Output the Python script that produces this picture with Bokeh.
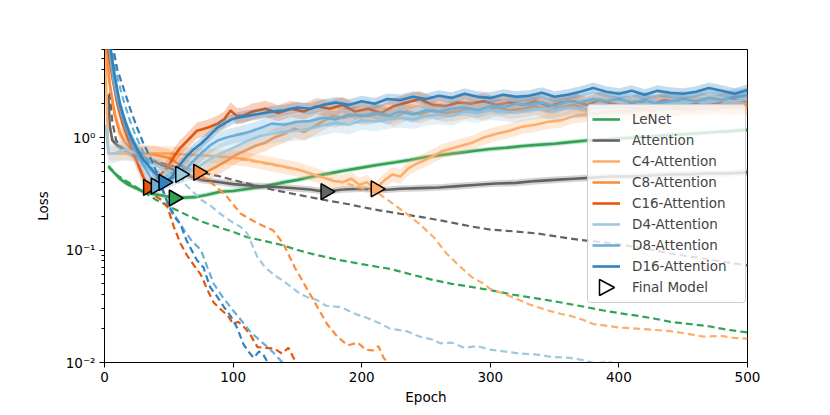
import math
from bokeh.plotting import figure
from bokeh.models import (ColumnDataSource, Legend, LegendItem, FixedTicker,
                          PolyAnnotation, BoxAnnotation, Range1d)
from bokeh.embed import file_html
from bokeh.resources import INLINE

models = ["LeNet", "Attention", "C4-Attention", "C8-Attention", "C16-Attention",
          "D4-Attention", "D8-Attention", "D16-Attention"]
colors = ["#31a354", "#636363", "#fdae6b", "#fd8d3c", "#e6550d",
          "#9ecae1", "#6baed6", "#3182bd"]
band_spread = [0.05, 0.07, 0.16, 0.2, 0.18, 0.22, 0.18, 0.12]

lenet_val = [(3,0.55),(8,0.48),(12,0.43),(17,0.39),(23,0.36),(30,0.33),(38,0.315),(45,0.305),
             (54,0.29),(62,0.292),(70,0.295),(80,0.31),(90,0.33),(100,0.335),(112,0.35),(125,0.37),
             (137,0.395),(150,0.42),(162,0.45),(175,0.48),(187,0.51),(200,0.54),(212,0.57),(225,0.6),
             (237,0.63),(250,0.67),(262,0.7),(275,0.73),(287,0.76),(300,0.79),(312,0.81),(325,0.84),
             (337,0.86),(350,0.88),(362,0.91),(375,0.94),(387,0.96),(400,0.98),(412,1.0),(425,1.02),
             (437,1.05),(450,1.07),(462,1.09),(475,1.12),(487,1.14),(500,1.17)]
lenet_train = [(3,0.56),(10,0.46),(20,0.39),(30,0.33),(40,0.28),(50,0.245),(62,0.21),(75,0.18),
               (88,0.16),(100,0.145),(111,0.13),(125,0.12),(139,0.11),(150,0.1),(162,0.092),
               (175,0.085),(184,0.081),(200,0.075),(212,0.071),(222,0.068),(240,0.06),(256,0.054),
               (270,0.05),(285,0.047),(300,0.044),(318,0.04),(337,0.037),(350,0.035),(362,0.033),
               (375,0.031),(388,0.029),(400,0.0275),(415,0.026),(428,0.0245),(440,0.023),
               (455,0.022),(470,0.021),(485,0.0195),(500,0.0185)]

attention_val = [(3,2.4),(4,1.3),(6,0.95),(10,0.85),(15,0.78),(20,0.72),(30,0.66),(40,0.6),(50,0.54),
                 (60,0.48),(75,0.42),(90,0.4),(100,0.385),(120,0.37),(140,0.36),(160,0.345),(172,0.33),
                 (185,0.345),(200,0.35),(215,0.34),(230,0.35),(245,0.355),(260,0.36),(275,0.37),
                 (290,0.38),(305,0.39),(320,0.395),(335,0.41),(350,0.42),(365,0.43),(380,0.44),
                 (395,0.45),(410,0.45),(425,0.46),(440,0.47),(455,0.47),(470,0.48),(485,0.48),(500,0.49)]
attention_train = [(4,2.5),(6,1.4),(9,0.95),(13,0.82),(18,0.76),(25,0.7),(35,0.64),(45,0.59),(55,0.55),
                   (65,0.52),(75,0.49),(90,0.45),(100,0.42),(115,0.38),(130,0.345),(150,0.31),(170,0.28),
                   (190,0.255),(209,0.23),(230,0.21),(248,0.195),(265,0.18),(285,0.162),(300,0.152),
                   (320,0.146),(337,0.14),(355,0.13),(370,0.123),(388,0.117),(405,0.11),(420,0.103),
                   (440,0.093),(460,0.086),(480,0.079),(500,0.073)]

c4_val = [(0.5,7.0),(2,1.5),(3,0.72),(10,0.72),(20,0.72),(30,0.72),(40,0.72),(50,0.72),(60,0.71),
          (70,0.7),(80,0.69),(90,0.68),(100,0.66),(110,0.64),(120,0.61),(130,0.58),(140,0.55),
          (150,0.52),(160,0.48),(170,0.44),(178,0.41),(185,0.4),(192,0.43),(198,0.38),(204,0.4),
          (211,0.35),(218,0.42),(224,0.47),(230,0.45),(236,0.53),(242,0.58),(248,0.62),(255,0.68),
          (262,0.75),(270,0.8),(278,0.85),(286,0.9),(295,1.0),(305,1.08),(315,1.15),(325,1.25),
          (335,1.3),(345,1.38),(355,1.42),(365,1.55),(375,1.6),(385,1.65),(395,1.7),(410,1.72),
          (425,1.75),(440,1.8),(455,1.78),(470,1.82),(485,1.85),(500,1.85)]
c4_train = [(3,0.72),(50,0.72),(100,0.66),(150,0.52),(170,0.44),(185,0.4),(195,0.37),(204,0.345),
            (211,0.33),(220,0.28),(228,0.24),(235,0.21),(245,0.17),(256,0.13),(266,0.093),(276,0.072),
            (286,0.057),(295,0.05),(300,0.045),(310,0.041),(320,0.037),(330,0.033),(337,0.031),
            (345,0.029),(355,0.027),(362,0.026),(372,0.024),(380,0.022),(388,0.0214),(400,0.0205),
            (414,0.02),(427,0.0195),(440,0.019),(453,0.018),(466,0.017),(480,0.0172),(490,0.0165),
            (500,0.0163)]

c8_val = [(1,7.0),(4,3.0),(8,1.6),(12,1.1),(16,0.9),(20,0.8),(25,0.75),(30,0.72),(40,0.7),(50,0.66),
          (60,0.56),(66,0.52),(73,0.49),(80,0.5),(87,0.55),(95,0.62),(102,0.7),(110,0.77),(118,0.85),
          (125,0.9),(132,1.0),(140,1.08),(148,1.2),(155,1.12),(162,1.23),(170,1.4),(178,1.55),
          (186,1.5),(195,1.6),(205,1.55),(215,1.65),(225,1.5),(235,1.7),(245,1.6),(255,1.75),
          (265,1.65),(275,1.7),(285,1.8),(295,1.7),(305,1.85),(315,1.75),(325,1.8),(335,1.9),
          (345,1.75),(355,1.85),(365,1.95),(375,1.8),(385,1.9),(395,1.85),(405,1.95),(415,1.8),
          (425,1.9),(435,2.0),(445,1.85),(455,1.95),(465,1.9),(475,2.0),(485,1.9),(500,1.95)]
c8_train = [(1,7.0),(4,3.0),(8,1.6),(12,1.1),(16,0.9),(20,0.8),(25,0.75),(30,0.72),(40,0.7),
            (50,0.66),(60,0.56),(73,0.48),(85,0.38),(95,0.3),(106,0.21),(118,0.175),(131,0.15),
            (139,0.114),(148,0.07),(158,0.044),(165,0.032),(173,0.022),(181,0.017),(189,0.0142),
            (197,0.015),(203,0.013),(209,0.0128),(213,0.014),(217,0.011),(222,0.0095),(228,0.008)]

c16_val = [(2,7.0),(6,3.5),(10,2.0),(14,1.35),(18,1.0),(22,0.75),(26,0.58),(30,0.45),(34,0.36),
           (38,0.4),(43,0.46),(49,0.54),(54,0.68),(59,0.81),(65,0.95),(72,1.15),(80,1.22),(88,1.33),
           (93,1.45),(98,1.74),(103,1.55),(108,1.57),(115,1.7),(125,1.8),(135,1.65),(145,1.8),
           (155,1.7),(165,1.9),(175,1.8),(185,1.95),(195,1.7),(205,1.8),(215,1.65),(225,1.9),
           (235,2.05),(245,2.2),(255,1.95),(265,1.9),(275,2.05),(285,2.0),(295,2.1),(305,1.95),
           (315,2.05),(325,1.95),(335,2.1),(345,1.9),(355,2.05),(365,2.1),(375,1.95),(385,2.15),
           (395,2.0),(405,1.9),(415,2.1),(425,1.95),(435,2.15),(445,2.05),(455,1.95),(465,2.1),
           (475,2.0),(485,2.2),(500,2.1)]
c16_train = [(34,0.36),(40,0.3),(44,0.28),(49,0.24),(54,0.16),(59,0.115),(64,0.09),(70,0.072),
             (75,0.06),(81,0.042),(85,0.034),(90,0.03),(96,0.026),(100,0.022),(104,0.023),(108,0.021),
             (113,0.018),(119,0.0137),(125,0.0135),(132,0.0133),(138,0.012),(143,0.0135),(147,0.011),
             (150,0.0095),(155,0.0088)]

d4_val = [(1,1.3),(3,0.72),(8,0.72),(12,0.76),(16,0.78),(20,0.76),(25,0.72),(30,0.66),(36,0.6),
          (42,0.55),(48,0.5),(54,0.48),(59,0.47),(65,0.5),(72,0.54),(80,0.62),(90,0.72),(100,0.81),
          (110,0.92),(120,1.02),(130,1.08),(140,1.12),(150,1.15),(160,1.2),(170,1.28),(180,1.35),
          (190,1.3),(200,1.42),(210,1.38),(220,1.45),(230,1.5),(240,1.45),(250,1.55),(260,1.6),
          (270,1.55),(280,1.7),(290,1.65),(300,1.75),(310,1.7),(320,1.65),(330,1.75),(340,1.8),
          (350,1.75),(360,1.85),(370,1.8),(380,1.9),(390,1.85),(400,1.95),(410,1.9),(420,2.0),
          (430,1.95),(440,2.05),(450,2.0),(460,2.1),(470,2.05),(480,2.15),(490,2.1),(500,2.2)]
d4_train = [(59,0.47),(62,0.39),(70,0.32),(75,0.28),(82,0.25),(90,0.21),(100,0.175),(106,0.16),
            (111,0.14),(115,0.11),(119,0.086),(125,0.07),(132,0.06),(140,0.052),(152,0.041),
            (158,0.038),(165,0.036),(172,0.032),(184,0.031),(195,0.027),(204,0.025),(215,0.022),
            (222,0.02),(235,0.019),(245,0.017),(255,0.016),(261,0.0148),(270,0.015),(280,0.0135),
            (290,0.014),(300,0.013),(312,0.0125),(323,0.012),(335,0.0118),(348,0.0112),(362,0.011),
            (372,0.0105),(382,0.0098),(392,0.0102),(400,0.0095),(410,0.009)]

d8_val = [(3,7.0),(7,3.2),(11,2.0),(15,1.4),(19,1.05),(24,0.78),(29,0.6),(34,0.48),(40,0.37),
          (46,0.4),(52,0.43),(61,0.48),(68,0.6),(75,0.72),(82,0.85),(88,0.94),(95,1.0),(102,1.05),
          (110,1.1),(120,1.2),(130,1.33),(140,1.3),(150,1.38),(160,1.4),(170,1.5),(180,1.45),
          (190,1.6),(200,1.55),(210,1.65),(220,1.55),(230,1.7),(240,1.6),(250,1.75),(260,1.7),
          (270,1.8),(280,1.85),(290,1.75),(300,1.9),(310,1.85),(320,2.0),(330,1.95),(340,2.05),
          (350,1.9),(360,2.1),(370,2.05),(380,2.2),(390,2.1),(400,2.2),(410,2.05),(420,2.15),
          (430,2.0),(440,2.1),(450,2.2),(460,2.1),(470,2.25),(480,2.15),(490,2.3),(500,2.35)]
d8_train = [(5,7.0),(9,3.8),(14,2.3),(19,1.5),(24,1.05),(30,0.75),(36,0.55),(42,0.4),(49,0.27),
            (55,0.2),(62,0.15),(68,0.12),(75,0.1),(80,0.07),(85,0.05),(92,0.038),(100,0.029),
            (106,0.024),(113,0.019),(120,0.016),(127,0.0137),(132,0.012),(137,0.0104),(141,0.0095),
            (146,0.0085)]

d16_val = [(4,7.0),(8,3.5),(12,2.0),(16,1.4),(20,1.05),(25,0.8),(30,0.64),(36,0.53),(41,0.46),
           (46,0.4),(52,0.44),(57,0.54),(63,0.66),(69,0.78),(75,0.88),(82,1.05),(88,1.23),(94,1.35),
           (100,1.47),(110,1.55),(120,1.62),(130,1.7),(140,1.75),(150,1.85),(160,1.8),(170,1.95),
           (180,2.05),(190,1.95),(200,2.1),(210,2.0),(220,2.2),(230,2.15),(240,2.3),(250,2.2),
           (260,2.35),(270,2.25),(280,2.45),(290,2.3),(300,2.25),(310,2.4),(320,2.3),(330,2.35),
           (340,2.5),(350,2.3),(360,2.4),(370,2.55),(380,2.75),(390,2.55),(400,2.45),(410,2.6),
           (420,2.4),(430,2.6),(440,2.5),(450,2.45),(460,2.55),(470,2.75),(480,2.6),(490,2.45),
           (500,2.65)]
d16_train = [(6,7.0),(10,4.0),(15,2.7),(20,1.8),(25,1.25),(30,0.9),(36,0.65),(42,0.45),(49,0.26),
             (54,0.2),(59,0.17),(64,0.12),(72,0.081),(77,0.07),(82,0.047),(88,0.038),(93,0.031),
             (98,0.026),(103,0.0205),(108,0.0146),(112,0.0125),(116,0.011),(120,0.0125),(123,0.012),
             (127,0.01),(131,0.0085)]

val_series = [lenet_val, attention_val, c4_val, c8_val, c16_val, d4_val, d8_val, d16_val]
train_series = [lenet_train, attention_train, c4_train, c8_train, c16_train, d4_train, d8_train, d16_train]

final_epoch = [54, 172, 211, 73, 34, 59, 40, 46]
final_loss = [0.29, 0.33, 0.35, 0.49, 0.36, 0.47, 0.37, 0.40]

FONT = "DejaVu Sans"

p = figure(frame_width=643, frame_height=313, y_axis_type="log",
           x_range=Range1d(0, 500), y_range=Range1d(0.01, 6.06),
           output_backend="svg", toolbar_location=None,
           min_border_left=104, min_border_right=75, min_border_top=49, min_border_bottom=48)
p.background_fill_color = "white"
p.border_fill_color = "white"
p.outline_line_color = "black"
p.outline_line_width = 1
p.xgrid.visible = False
p.ygrid.visible = False

val_renderers = []
for i, m in enumerate(models):
    ve = [a for a, b in val_series[i]]
    vl = [b for a, b in val_series[i]]
    s = band_spread[i]
    src = ColumnDataSource(dict(x=ve, y=vl,
                                lo=[v / (1 + s) for v in vl],
                                hi=[v * (1 + s) for v in vl]))
    p.varea(x="x", y1="lo", y2="hi", source=src, fill_color=colors[i], fill_alpha=0.28)
    r = p.line(x="x", y="y", source=src, line_color=colors[i], line_width=2.6)
    val_renderers.append(r)
    te = [a for a, b in train_series[i]]
    tl = [b for a, b in train_series[i]]
    p.line(x=te, y=tl, line_color=colors[i], line_width=2.2, line_dash="7 4")

final_src = ColumnDataSource(dict(x=final_epoch, y=final_loss, c=colors))
p.scatter(x="x", y="y", source=final_src, marker="triangle", size=16,
          angle=-math.pi / 2, fill_color="c", line_color="black", line_width=1.5)
dummy = p.line(x="x", y="y", source=final_src, line_alpha=0)

# legend frame (semi-transparent box drawn separately so the marker can sit above it)
LEG_X, LEG_Y, PAD, GW, RH, STANDOFF, LW, SP = 483, 60, 5, 28, 20, 12, 108, 1
n_items = len(models) + 1
leg_w = 2 * PAD + GW + STANDOFF + LW
leg_h = 2 * PAD + n_items * RH + (n_items - 1) * SP
box = BoxAnnotation(left=LEG_X, right=LEG_X + leg_w, bottom=LEG_Y, top=LEG_Y + leg_h,
                    left_units="screen", right_units="screen",
                    bottom_units="screen", top_units="screen",
                    fill_color="white", fill_alpha=0.8,
                    line_color="#cccccc", line_alpha=1.0, line_width=1, border_radius=3)
p.add_layout(box)

items = [LegendItem(label=m, renderers=[val_renderers[i]]) for i, m in enumerate(models)]
items.append(LegendItem(label="Final Model", renderers=[dummy]))
legend = Legend(items=items, location=(LEG_X, LEG_Y), padding=PAD, margin=0,
                glyph_width=GW, glyph_height=RH, label_height=RH, spacing=SP,
                label_standoff=STANDOFF, label_width=LW,
                label_text_font=FONT, label_text_font_size="13.5px",
                background_fill_alpha=0, border_line_alpha=0)
p.add_layout(legend)

cx = LEG_X + PAD + GW / 2
cy = LEG_Y + PAD + RH / 2
tri = PolyAnnotation(xs=[cx - 7, cx - 7, cx + 8], ys=[cy + 8, cy - 8, cy],
                     xs_units="screen", ys_units="screen", level="overlay",
                     fill_alpha=0, line_color="black", line_alpha=1.0, line_width=1.5)
p.add_layout(tri)

p.xaxis.ticker = FixedTicker(ticks=[0, 100, 200, 300, 400, 500])
p.yaxis.ticker = FixedTicker(
    ticks=[0.01, 0.1, 1.0],
    minor_ticks=[0.02, 0.03, 0.04, 0.05, 0.06, 0.07, 0.08, 0.09,
                 0.2, 0.3, 0.4, 0.5, 0.6, 0.7, 0.8, 0.9, 2, 3, 4, 5, 6])
p.yaxis.major_label_overrides = {0.01: "10\u207b\u00b2", 0.1: "10\u207b\u00b9", 1.0: "10\u2070"}
for ax in (p.xaxis, p.yaxis):
    ax.axis_line_color = "black"
    ax.major_tick_line_color = "black"
    ax.minor_tick_line_color = "black"
    ax.major_tick_out = 5
    ax.major_tick_in = 0
    ax.minor_tick_out = 3
    ax.minor_tick_in = 0
    ax.major_label_text_font = FONT
    ax.major_label_text_font_size = "13.5px"
    ax.major_label_text_color = "black"
    ax.axis_label_text_font = FONT
    ax.axis_label_text_font_size = "13.5px"
    ax.axis_label_text_font_style = "normal"
    ax.axis_label_text_color = "black"
    ax.major_label_standoff = 4
p.xaxis.minor_tick_line_color = None
p.xaxis.axis_label = "Epoch"
p.yaxis.axis_label = "Loss"
p.xaxis.axis_label_standoff = 4
p.yaxis.axis_label_standoff = 12

open("out.html", "w").write(file_html(p, INLINE))
